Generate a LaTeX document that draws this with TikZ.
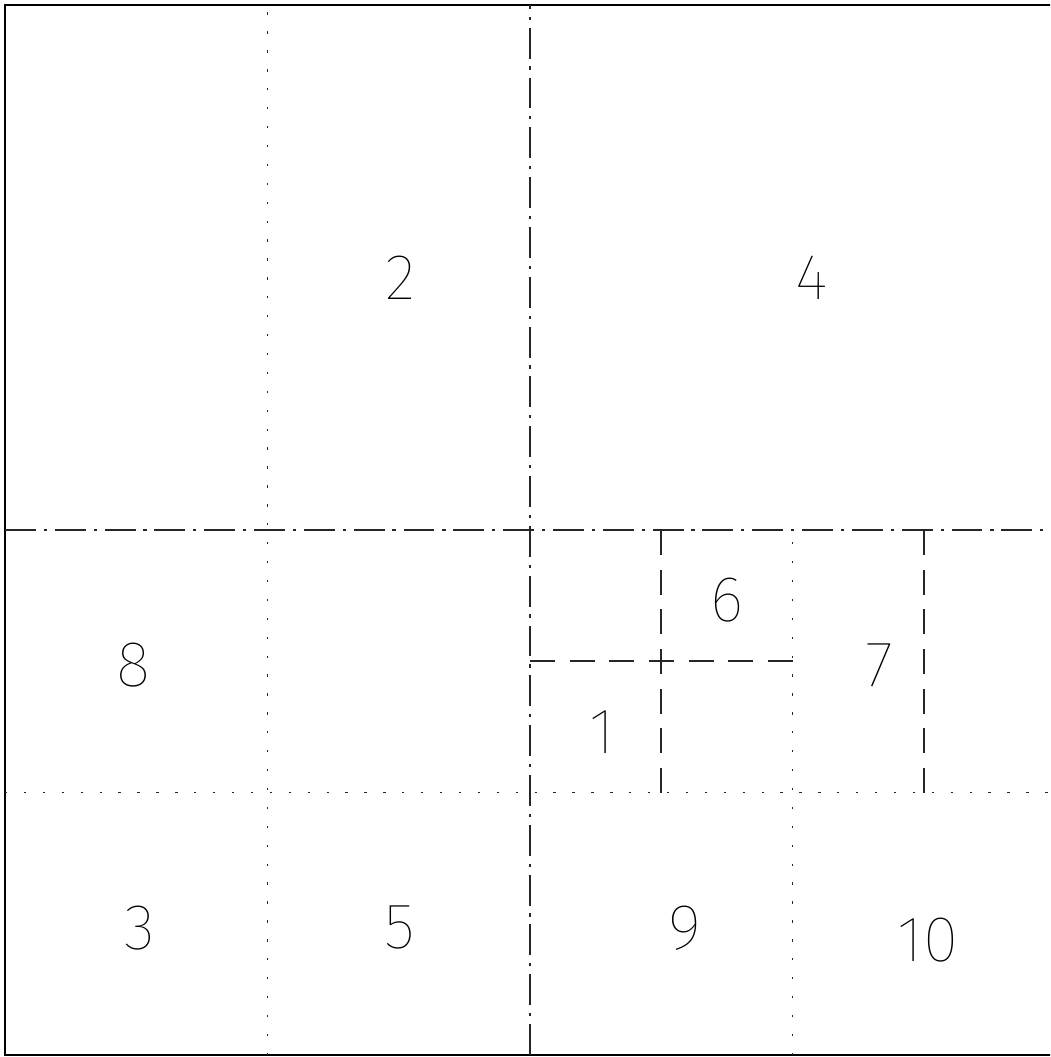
\documentclass[tikz,border=0pt]{standalone}
\usepackage{fontspec}
\setmainfont{Fira Sans}[UprightFont=* Thin]
\begin{document}
\begin{tikzpicture}[
    gridline/.style={line width=0.35pt, black!85},
    dotline/.style={gridline, dash pattern=on 0.5pt off 3.6pt},
    dashline/.style={gridline, dash pattern=on 5.4pt off 3.2pt},
    dashdotline/.style={gridline, dash pattern=on 6.7pt off 1.7pt on 0.7pt off 1.7pt},
    cellnum/.style={font=\fontsize{14}{14}\selectfont, inner sep=0pt},
    scale=2]

\useasboundingbox (-0.019,-0.0076) rectangle (3.981,4.019);
\clip (-0.019,-0.0076) rectangle (3.981,4.019);

% frame
\draw [line width=0.5pt] (0,0) rectangle (4,4);

% dotted lines
\draw [dotline] (1,0) -- (1,4);
\draw [dotline] (0,1) -- (4,1);
\draw [dotline] (3,0) -- (3,2);

% dash-dot lines
\draw [dashdotline] (0,2) -- (4,2);
\draw [dashdotline] (2,0) -- (2,4);

% dashed lines
\foreach \x in {2.5,3.5} {
   \draw [dashline] (\x,2) -- (\x,1);
  }
\draw [dashline] (2,1.5) -- (3,1.5);

% labels
\foreach \n/\x/\y in {2/1.505/2.96, 4/3.074/2.96, 8/0.488/1.486,
                      6/2.75/1.733, 7/3.333/1.486, 1/2.274/1.23,
                      3/0.514/0.484, 5/1.505/0.484, 9/2.59/0.484,
                      10/3.516/0.438} {
   \node [cellnum] (c-\n) at (\x,\y) {\n};
  }
\end{tikzpicture}
\end{document}
